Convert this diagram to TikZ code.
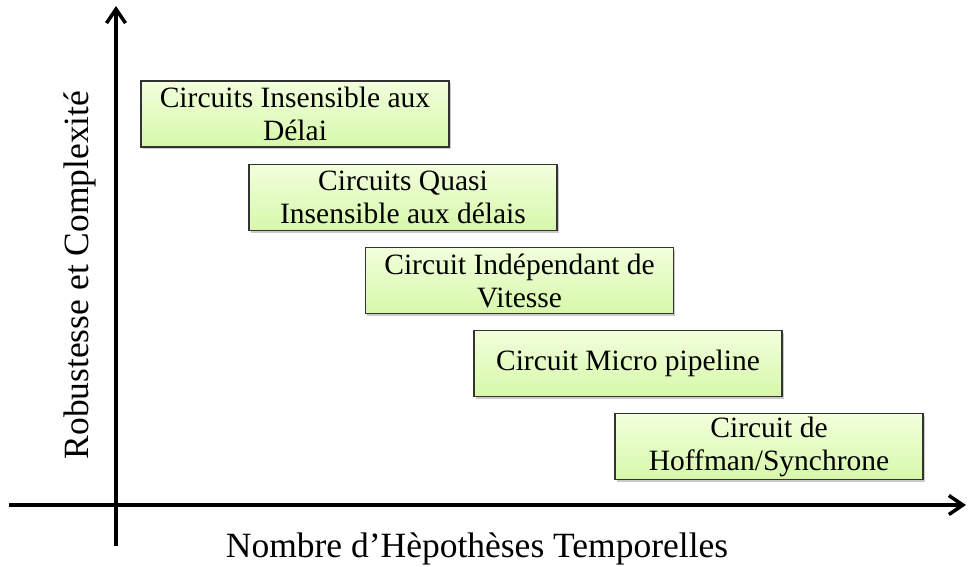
\documentclass[tikz,border=0pt]{standalone}
\usepackage{fontspec}
\setmainfont{Liberation Serif}
\usetikzlibrary{positioning,shadows,arrows.meta}

\definecolor{boxtop}{HTML}{F2FFDC}
\definecolor{boxbot}{HTML}{D6F8AA}

\begin{document}
\begin{tikzpicture}[x=1pt, y=-1pt, >={Straight Barb[length=14pt, width=19pt, line width=3.5pt]}]
    \tikzset{module/.style={draw=black!80, line width=1.3pt, top color=boxtop, bottom color=boxbot,
        align=center, minimum width=308pt, minimum height=66pt, inner sep=0pt,
        font=\fontsize{29.5}{33}\selectfont,
        drop shadow={shadow xshift=1.5pt, shadow yshift=-2pt, opacity=0.35, fill=black!60}}}
    \tikzset{axis/.style={line width=3.5pt, ->}}
    \tikzset{axlabel/.style={font=\fontsize{35.5}{40}\selectfont, inner sep=0pt}}

    \useasboundingbox (0,0) rectangle (969,567);

    % Axes
    \coordinate (ybottom) at (116,546);
    \coordinate (ytop)    at (116,6);
    \coordinate (xstart)  at (9,505);
    \coordinate (xend)    at (966,505);
    \draw[axis] (xstart) -- (xend);
    \draw[axis] (ybottom) -- (ytop);

    % Nodes
    \node[module] (insensible) at (295,114)   {Circuits Insensible aux\\Délai};
    \node[module] (quasi)      at (403,197.5) {Circuits Quasi\\Insensible aux délais};
    \node[module] (vitesse)    at (519.5,280.5) {Circuit Indépendant de\\Vitesse};
    \node[module] (pipeline)   at (628,363.5) {Circuit Micro pipeline};
    \node[module] (synchrone)  at (769,446.5) {Circuit de\\Hoffman/Synchrone};

    % Axis labels
    \node[axlabel, anchor=base] (xlabel) at (477,557) {Nombre d’Hèpothèses Temporelles};
    \node[axlabel, anchor=base, rotate=90] (ylabel) at (88,275) {Robustesse et Complexité};
\end{tikzpicture}
\end{document}
